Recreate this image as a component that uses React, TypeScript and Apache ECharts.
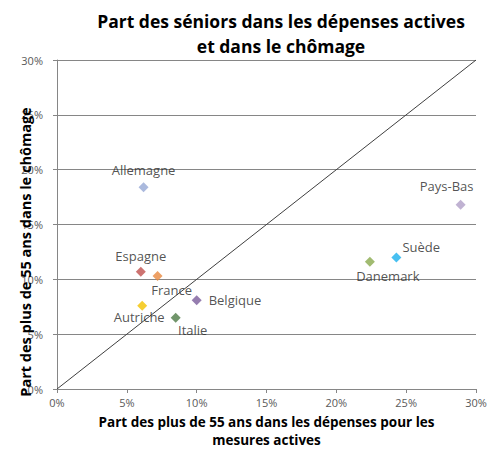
import React, { useEffect, useRef } from "react";
import * as echarts from "echarts";

const countries = ["Allemagne", "Espagne", "France", "Autriche", "Italie", "Belgique", "Danemark", "Suède", "Pays-Bas"];
const depensesActives = [6.2, 6.0, 7.2, 6.1, 8.5, 10.0, 22.4, 24.3, 28.9];
const chomage = [18.4, 10.7, 10.3, 7.6, 6.5, 8.1, 11.6, 12.0, 16.8];
const diagonal = [[0, 0], [30, 30]];

const colors = ["#95A7D5", "#C0504D", "#E9883E", "#F2C200", "#4E7A46", "#7A5D9B", "#8AAA4E", "#1AB0EE", "#B09FC7"];
const labelPos: any[] = [
  { position: "top", distance: 6 },
  { position: "top", distance: 4 },
  { position: "bottom", offset: [14, -3] },
  { position: "bottom", offset: [-3, -5] },
  { position: "bottom", offset: [17, -4] },
  { position: "right", offset: [2, 0] },
  { position: "bottom", offset: [18, -2] },
  { position: "right", offset: [-4, -10] },
  { position: "top", offset: [-14, -2] },
];

const FONT = "Open Sans";
const yTitle = "Part des plus de 55 ans dans le chômage";

export default function App() {
  const ref = useRef<HTMLDivElement>(null);
  useEffect(() => {
    if (!ref.current) return;
    const chart = echarts.init(ref.current, null, { renderer: "svg" });
    chart.setOption({
      animation: false,
      textStyle: { fontFamily: FONT },
      title: {
        text: "Part des séniors dans les dépenses actives\net dans le chômage",
        left: 276,
        top: 3,
        textAlign: "center",
        textStyle: { fontFamily: FONT, fontSize: 17.5, fontWeight: "bold", color: "#000", lineHeight: 25 },
      },
      graphic: [
        {
          type: "text",
          x: 25,
          y: 252,
          rotation: Math.PI / 2,
          z: 10,
          style: {
            text: yTitle,
            align: "center",
            verticalAlign: "middle",
            fontFamily: FONT,
            fontSize: 14.5,
            fontWeight: "bold",
            fill: "#000",
          },
        },
      ],
      grid: { left: 57, right: 11, top: 60, bottom: 61, outerBoundsMode: "none", containLabel: false },
      xAxis: {
        type: "value",
        min: 0,
        max: 30,
        interval: 5,
        name: "Part des plus de 55 ans dans les dépenses pour les\nmesures actives",
        nameLocation: "middle",
        nameGap: 24,
        nameTextStyle: { fontFamily: FONT, fontSize: 13.5, fontWeight: "bold", color: "#000", lineHeight: 18 },
        axisLine: { lineStyle: { color: "#868686" } },
        axisTick: { show: true, length: 4, lineStyle: { color: "#868686" } },
        axisLabel: { formatter: "{value}%", color: "#595959", fontSize: 11, margin: 8 },
        splitLine: { show: false },
      },
      yAxis: {
        type: "value",
        min: 0,
        max: 30,
        interval: 5,
        axisLine: { show: true, lineStyle: { color: "#868686" } },
        axisTick: { show: true, length: 4, lineStyle: { color: "#868686" } },
        axisLabel: { formatter: "{value}%", color: "#595959", fontSize: 11, margin: 14 },
        splitLine: { show: true, lineStyle: { color: "#868686", width: 1 } },
      },
      series: [
        {
          type: "line",
          data: diagonal,
          symbol: "none",
          lineStyle: { color: "#3F3F3F", width: 1 },
          silent: true,
          z: 1,
        },
        {
          type: "scatter",
          symbol: "diamond",
          symbolSize: 10,
          z: 3,
          data: countries.map((c, i) => ({
            name: c,
            value: [depensesActives[i], chomage[i]],
            itemStyle: { color: colors[i] },
            label: { show: true, formatter: c, color: "#262626", fontSize: 13, fontFamily: FONT, ...labelPos[i] },
          })),
        },
      ],
    });
    return () => chart.dispose();
  }, []);
  return <div ref={ref} style={{ width: 487, height: 450, position: "absolute", left: 0, top: 0 }} />;
}
